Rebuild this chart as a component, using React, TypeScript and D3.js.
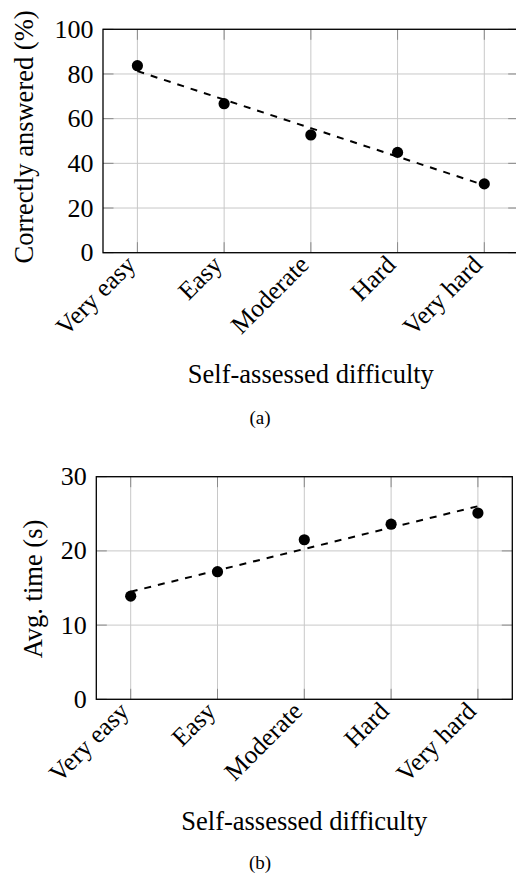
import React from "react";
import * as d3 from "d3";

const categories = ["Very easy", "Easy", "Moderate", "Hard", "Very hard"];
const correctPct = [83.7, 66.7, 52.7, 44.9, 30.8];
const avgTime = [13.9, 17.2, 21.5, 23.6, 25.1];
const yTicksA = [0, 20, 40, 60, 80, 100];
const yTicksB = [0, 10, 20, 30];

const FONT = "Liberation Serif, DejaVu Serif, serif";

type PanelProps = {
  left: number;
  right: number;
  top: number;
  bottom: number;
  values: number[];
  yMax: number;
  yTicks: number[];
  yLabel: string;
  yLabelX: number;
  yLabelY: number;
  xLabelY: number;
  caption: string;
  captionY: number;
};

function fit(values: number[]) {
  const xs = values.map((_, i) => i);
  const mx = d3.mean(xs)!;
  const my = d3.mean(values)!;
  const num = d3.sum(xs.map((x, i) => (x - mx) * (values[i] - my)));
  const den = d3.sum(xs.map((x) => (x - mx) * (x - mx)));
  const slope = num / den;
  return (x: number) => my + slope * (x - mx);
}

function Panel(p: PanelProps) {
  const pad = 34.4;
  const x = d3
    .scalePoint<string>()
    .domain(categories)
    .range([p.left + pad, p.right - pad]);
  const y = d3.scaleLinear().domain([0, p.yMax]).range([p.bottom, p.top]);
  const f = fit(p.values);
  const line = d3
    .line<number>()
    .x((_, i) => x(categories[i])!)
    .y((v) => y(v));
  const trend = categories.map((_, i) => f(i));
  const tl = 10.5;
  const midX = (p.left + p.right) / 2;
  return (
    <g>
      {categories.map((c) => (
        <line key={"gx" + c} x1={x(c)} x2={x(c)} y1={p.top} y2={p.bottom} stroke="#c8c8c8" strokeWidth={1} />
      ))}
      {p.yTicks.map((t) => (
        <line key={"gy" + t} x1={p.left} x2={p.right} y1={y(t)} y2={y(t)} stroke="#c8c8c8" strokeWidth={1} />
      ))}
      {categories.map((c) => (
        <g key={"tx" + c}>
          <line x1={x(c)} x2={x(c)} y1={p.bottom} y2={p.bottom - tl} stroke="#8a8a8a" strokeWidth={1} />
          <line x1={x(c)} x2={x(c)} y1={p.top} y2={p.top + tl} stroke="#8a8a8a" strokeWidth={1} />
        </g>
      ))}
      {p.yTicks.map((t) => (
        <g key={"ty" + t}>
          <line x1={p.left} x2={p.left + tl} y1={y(t)} y2={y(t)} stroke="#8a8a8a" strokeWidth={1} />
          <line x1={p.right} x2={p.right - tl} y1={y(t)} y2={y(t)} stroke="#8a8a8a" strokeWidth={1} />
        </g>
      ))}
      <rect x={p.left} y={p.top} width={p.right - p.left} height={p.bottom - p.top} fill="none" stroke="#000" strokeWidth={1.3} />
      <path d={line(trend) || ""} fill="none" stroke="#000" strokeWidth={2} strokeDasharray="7,7" />
      {p.values.map((v, i) => (
        <circle key={"pt" + i} cx={x(categories[i])} cy={y(v)} r={5.6} fill="#000" />
      ))}
      {p.yTicks.map((t) => (
        <text key={"yl" + t} x={p.left - 9.5} y={y(t)} dy="0.33em" textAnchor="end" fontSize={26} fontFamily={FONT}>
          {t}
        </text>
      ))}
      {categories.map((c) => (
        <text
          key={"xl" + c}
          transform={`translate(${x(c)! - 0.5},${p.bottom + 13.5}) rotate(-45)`}
          textAnchor="end"
          fontSize={25.5}
          fontFamily={FONT}
        >
          {c}
        </text>
      ))}
      <text transform={`translate(${p.yLabelX},${p.yLabelY}) rotate(-90)`} textAnchor="middle" fontSize={26.5} fontFamily={FONT}>
        {p.yLabel}
      </text>
      <text x={midX} y={p.xLabelY} textAnchor="middle" fontSize={26.5} fontFamily={FONT}>
        Self-assessed difficulty
      </text>
      <text x={260} y={p.captionY} textAnchor="middle" fontSize={19} fontFamily={FONT}>
        {p.caption}
      </text>
    </g>
  );
}

export default function App() {
  return (
    <svg
      width={516}
      height={874}
      style={{ position: "absolute", left: 0, top: 0, background: "#fff" }}
    >
      <rect width={516} height={874} fill="#fff" />
      <Panel
        left={103}
        right={518.7}
        top={29.3}
        bottom={252.7}
        values={correctPct}
        yMax={100}
        yTicks={yTicksA}
        yLabel="Correctly answered (%)"
        yLabelX={33}
        yLabelY={137}
        xLabelY={383}
        caption="(a)"
        captionY={424}
      />
      <Panel
        left={96.3}
        right={512.3}
        top={476.7}
        bottom={699.3}
        values={avgTime}
        yMax={30}
        yTicks={yTicksB}
        yLabel="Avg. time (s)"
        yLabelX={42}
        yLabelY={589}
        xLabelY={830}
        caption="(b)"
        captionY={869}
      />
    </svg>
  );
}
